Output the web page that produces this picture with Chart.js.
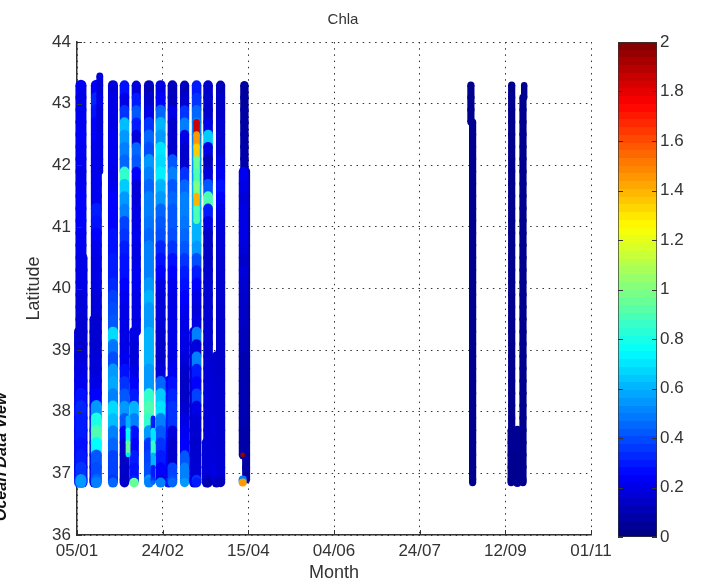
<!DOCTYPE html>
<html>
<head>
<meta charset="utf-8">
<title>Chla</title>
<script src="https://cdn.jsdelivr.net/npm/chart.js@4/dist/chart.umd.min.js"></script>
<style>
  html, body { margin: 0; padding: 0; background: #fff; overflow: hidden; }
  #wrap { position: relative; width: 705px; height: 584px; overflow: hidden; }
  canvas { position: absolute; top: 0; filter: blur(0.6px); }
  #main { left: 0; }
  #bar { left: 600px; }
  #odv { position: absolute; left: 1px; top: 521px; transform-origin: 0 0; transform: rotate(-90deg);
         font: italic bold 16px "Liberation Sans", sans-serif; color: #111; white-space: nowrap; line-height: 0; }
  #ttl { position: absolute; left: 293px; width: 100px; top: 19px; text-align: center; line-height: 0;
         font: 15px "Liberation Sans", sans-serif; color: #333; }
</style>
</head>
<body>
<div id="wrap">
  <canvas id="main" width="705" height="584"></canvas>
  <canvas id="bar" width="105" height="584"></canvas>
  <div id="ttl" style="line-height:0">Chla</div>
  <div id="odv">Ocean Data View</div>
</div>
<script>
var monthTicks = ["05/01", "24/02", "15/04", "04/06", "24/07", "12/09", "01/11"];
var colorTicks = ["0", "0.2", "0.4", "0.6", "0.8", "1", "1.2", "1.4", "1.6", "1.8", "2"];

// sampling latitudes along a transect, north to south
var latitudes = [43.45, 43.3, 43.1, 42.9, 42.7, 42.5, 42.3, 42.1, 41.9, 41.7, 41.5, 41.3, 41.1, 40.9, 40.7, 40.5, 40.3,
  40.1, 39.9, 39.7, 39.5, 39.3, 39.1, 38.9, 38.7, 38.5, 38.3, 38.1, 37.9, 37.7, 37.5, 37.3, 37.1, 36.9, 36.85];

var t1b = [.2, .2, .2, .18, .18, .16, .16, .16, .18, .2, .2, .22, .22, .2, .2, .2, .2, .2, .22, .25];
var t1c = [.16, .16, .18, .18, .2, .22, .25, .25, .22, .22, .2, .22, .3, .35];
var t1a = [.22, .2, .22, .22, .24, .22, .22, .2, .22, .24, .24, .24, .22, .22, .2, .2, .2, .18, .18, .16, .16, .16, .18, .2, .22, .28, .32, .3, .3, .28, .3, .35, .55, .55];
var t2c = [.16, .16, .16, .16, .18, .2, .22, .25, .25, .25, .22, .22, .22, .22, .25];
var t2a = [.25, .32, .28, .25, .25, .22, .22, .22, .22, .22, .3, .28, .25, .22, .2, .2, .2, .18, .18, .16, .16, .16, .18, .18, .2, .25, .55, .8, .9, .75, .42, .4, .45, .5];
var t2b = [.18, .18, .2, .18, .18, .2, .2, .2, .2];
var t3 = [.18, .2, .2, .2, .22, .22, .22, .2, .22, .25, .25, .25, .28, .28, .3, .3, .33, .38, .4, .42, .68, .48, .4, .55, .58, .5, .68, .62, .5, .45, .38, .38, .35, .45];
var t4 = [.28, .2, .35, .62, .55, .5, .45, .85, .65, .55, .5, .38, .35, .3, .28, .28, .25, .22, .2, .2, .2, .2, .22, .28, .35, .42, .55, .42, .25, .16, .14, .14, .12, .15];
var t4s = [.6, .75, .95, .7];
var t5c = [.2, .18, .18, .2, .25, .3, .6, .5, .28, .25, .3, .28, .3, .95];
var t5a = [.18, .3, .42, .3, .18, .45, .42, .25, .18, .18, .2, .2, .22, .2, .2, .22, .22, .2, .2, .2, .2];
var t6b = [.3, .7, .85, .6, .3, .35, .45];
var t6 = [.12, .15, .2, .35, .45, .4, .55, .5, .45, .5, .5, .48, .45, .5, .5, .5, .55, .6, .55, .55, .6, .6, .6, .55, .55, .85, .9, .85, .55, .35, .38, .4, .55, .5];
var t7b = [.25, .28, .3, .3, .28, .25, .25, .22, .2, .3];
var t7 = [.2, .25, .45, .6, .55, .7, .68, .72, .6, .55, .45, .42, .4, .32, .28, .25, .2, .18, .18, .18, .16, .15, .15, .18, .45, .65, .7, .5, .42, .35, .3, .25, .2, .5];
var t8 = [.12, .12, .2, .15, .15, .15, .42, .5, .42, .45, .42, .42, .4, .35, .28, .25, .22, .2, .2, .2, .2, .2, .2, .22, .28, .32, .35, .35, .18, .15, .15, .38, .4, .45];
var t9 = [.12, .15, .35, .5, .2, .15, .15, .35, .45, .5, .5, .48, .45, .42, .35, .3, .28, .25, .22, .2, .2, .2, .18, .15, .14, .14, .16, .2, .22, .25, .42, .5, .5, .55];
var t10b = [.17, .17, .17, .17, .17, .16, .16, .16, .16, .16, .16, .17, .2, .22];
var t10 = [.3, .35, .45, .5, .5, .55, .55, .55, .6, .6, .6, .6, .6, .55, .4, .3, .25, .2, .18, .2, .5, .18, .5, .3, .25, .38, .2, .17, .16, .15, .16, .17, .35, .3];
var t10i = [1.85, 1.45, 1.35, .95, .9, 1, 1.4, .9, .9];
var t11b = [.17, .18, .18, .17, .14];
var t11 = [.15, .15, .15, .2, .65, .2, .12, .18, .42, .9, .3, .2, .14, .14, .14, .15, .16, .16, .16, .16, .16, .16, .16, .17, .17, .18, .17, .17, .17, .18, .18, .18, .15, .1];
var t12b = [.16, .16, .17, .17, .17, .18, .18, .17, .18, .2, .17, .14];
var t12 = [.12, .14, .14, .16, .16, .16, .2, .22, .28, .25, .2, .18, .17, .17, .16, .16, .16, .16, .15, .15, .15, .15, .15, .15, .16, .16, .16, .16, .16, .16, .17, .17, .15, .12];
var t13d = [.12, .14, .12, .1, .1, .1, .1, .1, .08, .08, .08, .08, .08, .08, .08, .08, .08, .08, .07, .07, .07, .07, .07, .07, .07, .07];
var t13a = [.06, .06, .07, .07, .08, .08, .08, .1];
var t13c = [.22, .2, .18, .2, .2, .2, .18, .15, .18, .16, .15, .14, .14, .12, .12, .1, .1, .1, .1, .1, .1, .08, .08, .08];
var t13r = [1.95];
var t13e = [.5, 1.45];
var t14a = [.03, .03, .03, .03];
var t14b = [.03, .03, .03, .03, .03, .03, .03, .03, .03, .03, .03, .03, .03, .03, .03, .03, .03, .03, .03, .03, .03, .03, .03, .03, .03, .03, .03, .03, .03, .03, .03];
var t15 = [.03, .03, .03, .03, .03, .03, .03, .03, .03, .03, .03, .03, .03, .03, .03, .03, .03, .03, .03, .03, .03, .03, .03, .03, .03, .03, .03, .03, .03, .03];
var t15b = [.03, .04, .03, .03, .03, .03];
var t16 = [.03, .03, .03, .03, .03, .03, .03, .03, .03, .03, .03, .03, .03, .03, .03, .03, .03, .03, .03, .03, .03, .03, .03, .03, .03, .03, .03, .03, .03, .03, .03, .03, .03];
var t16t = [.03, .03];
var t17 = [.04, .04, .03, .03, .03, .04, .03];

var trackValues = [t1b, t1c, t1a, t2c, t2a, t2b, t3, t4, t5c, t5a, t4s, t6, t6b, t7b, t7, t8, t9, t10b, t10, t10i, t11b, t11, t12b, t12, t13d, t13a, t13c, t13r, t13e, t14a, t14b, t15, t15b, t17, t16, t16t];
// day of each transect, counted from 05/01
var trackDays = [3.2, 1.2, 2.3, 10.2, 11.3, 13.3, 21, 27.7, 33.3, 34.6, 29.8, 42, 44.4, 53.5, 48.8, 55.7, 62.8, 68.4, 69.8, 69.8, 75.8, 76.5, 81.5, 83.8, 98.7, 97.7, 97.1, 96.7, 96.7, 229.9, 230.9, 253.7, 253.4, 257, 260.3, 261];
var trackStart = [40.5, 39.3, 43.3, 39.5, 43.3, 43.45, 43.3, 43.3, 39.3, 43.3, 37.9, 43.3, 37.9, 38.5, 43.3, 43.3, 43.3, 39.3, 43.3, 42.7, 37.5, 43.3, 38.9, 43.3, 41.9, 43.3, 41.9, 37.3, 36.9, 43.3, 42.7, 43.3, 37.7, 37.7, 43.1, 43.3];

var trackRadius = [5, 5, 5.5, 5, 5.5, 3.4, 5, 4.8, 4.8, 4.6, 2.4, 5, 2.4, 5, 5, 4.8, 4.6, 5, 4.8, 3.2, 5, 4.8, 5, 4.6, 4, 4.2, 4.6, 2.4, 4, 3.6, 3.6, 3.6, 3.6, 4.5, 3.6, 3.2];

function jet(v) {
  var t = v / 2;
  function ch(c) { return Math.round(255 * Math.max(0, Math.min(1, 1.5 - Math.abs(4 * t - c)))); }
  return "rgb(" + ch(3) + "," + ch(2) + "," + ch(1) + ")";
}

var inkColor = "#333";
var tickFont = { family: "Liberation Sans", size: 17 };

var datasets = trackValues.map(function (values, n) {
  var lats = latitudes.slice(latitudes.indexOf(trackStart[n]));
  return {
    data: values.map(function (v, i) { return { x: trackDays[n], y: lats[i] }; }),
    order: trackValues.length - n, // chart.js paints the lowest order last
    showLine: true,
    clip: false,
    borderWidth: trackRadius[n] * 2,
    borderCapStyle: "butt",
    pointRadius: trackRadius[n],
    pointBorderWidth: 0,
    pointBackgroundColor: values.map(jet),
    segment: { borderColor: function (ctx) { return jet(values[ctx.p0DataIndex]); } }
  };
});

// matlab style ticks, pointing inwards
var innerTicks = {
  id: "innerTicks",
  afterDatasetsDraw: function (chart, args, opts) {
    var c = chart.ctx, a = chart.chartArea;
    c.save();
    c.strokeStyle = inkColor;
    c.lineWidth = 1;
    c.beginPath();
    if (chart.scales.x.type === "linear") {
      chart.scales.x.ticks.forEach(function (t, i) {
        var x = Math.round(chart.scales.x.getPixelForTick(i)) + 0.5;
        c.moveTo(x, a.bottom); c.lineTo(x, a.bottom - 5);
      });
    }
    chart.scales.y.ticks.forEach(function (t, i) {
      var y = Math.round(chart.scales.y.getPixelForTick(i)) + 0.5;
      c.moveTo(a.left, y); c.lineTo(a.left + 5, y);
      if (opts.both) { c.moveTo(a.right, y); c.lineTo(a.right - 5, y); }
    });
    c.stroke();
    c.restore();
  }
};

new Chart(document.getElementById("main"), {
  type: "scatter",
  data: { datasets: datasets },
  plugins: [innerTicks],
  options: {
    responsive: false,
    animation: false,
    layout: { padding: { left: 0, right: 114, top: 42, bottom: 0 } },
    plugins: {
      legend: { display: false },
      tooltip: { enabled: false }
    },
    scales: {
      x: {
        type: "linear", min: 0, max: 300,
        afterFit: function (s) { s.height = 49; },
        grid: { color: inkColor, drawTicks: false },
        border: { color: inkColor, dash: [1.5, 4.7], width: 1.5 },
        ticks: {
          stepSize: 50, padding: 6, maxRotation: 0, autoSkip: false, color: inkColor, font: tickFont,
          callback: function (v, i) { return monthTicks[i]; }
        },
        title: { display: true, text: "Month", color: inkColor, font: { family: "Liberation Sans", size: 18 }, padding: 0 }
      },
      y: {
        type: "linear", min: 36, max: 44,
        afterFit: function (s) { s.width = 77; },
        grid: { color: inkColor, drawTicks: false },
        border: { color: inkColor, dash: [1.5, 4.7], width: 1.5 },
        ticks: { stepSize: 1, padding: 6, color: inkColor, font: tickFont },
        title: { display: true, text: "Latitude", color: inkColor, font: { family: "Liberation Sans", size: 18 }, padding: { top: 23, bottom: 0 } }
      }
    }
  }
});

function jetGradient(ctx) {
  var chart = ctx.chart;
  if (!chart.chartArea) return "#00f";
  var g = chart.ctx.createLinearGradient(0, chart.chartArea.bottom, 0, chart.chartArea.top);
  for (var i = 0; i < 64; i++) {
    var col = jet((i + 0.5) / 64 * 2);
    g.addColorStop(i / 64, col);
    g.addColorStop((i + 1) / 64, col);
  }
  return g;
}

new Chart(document.getElementById("bar"), {
  type: "bar",
  data: {
    labels: [""],
    datasets: [{
      data: [[0, 2]],
      backgroundColor: jetGradient,
      borderColor: inkColor,
      borderWidth: 1,
      borderSkipped: false,
      barPercentage: 1,
      categoryPercentage: 1
    }]
  },
  plugins: [innerTicks],
  options: {
    responsive: false,
    animation: false,
    layout: { padding: { left: 18, right: 0, top: 42, bottom: 47 } },
    plugins: { legend: { display: false }, tooltip: { enabled: false }, innerTicks: { both: true } },
    scales: {
      x: { display: false },
      y: {
        position: "right", min: 0, max: 2,
        afterFit: function (s) { s.width = 48; },
        grid: { display: false, drawTicks: false },
        border: { display: false },
        ticks: {
          stepSize: 0.2, padding: 3, color: inkColor, font: tickFont,
          callback: function (v, i) { return colorTicks[i]; }
        }
      }
    }
  }
});
</script>
</body>
</html>
